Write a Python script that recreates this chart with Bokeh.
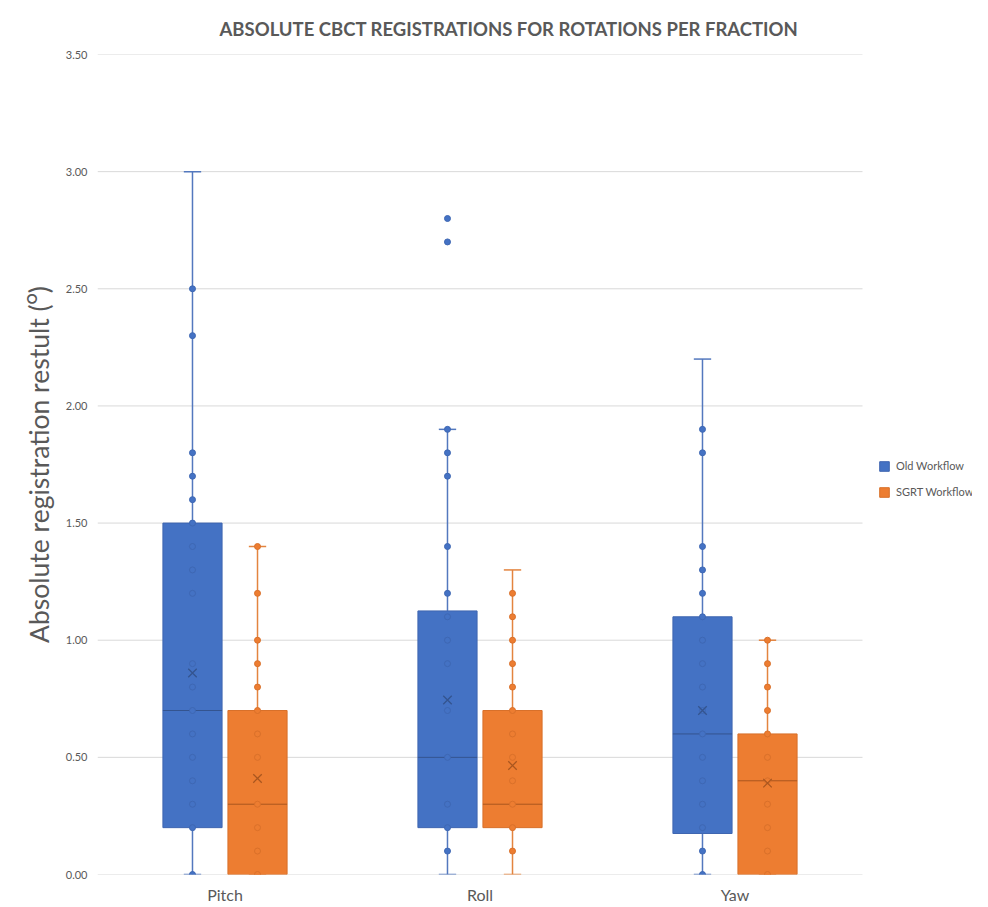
from bokeh.plotting import figure
from bokeh.models import (ColumnDataSource, Range1d, Legend, LegendItem,
                          NumeralTickFormatter, FixedTicker)
from bokeh.embed import file_html
from bokeh.resources import INLINE

# ---------------- data ----------------
categories = ["Pitch", "Roll", "Yaw"]
series_names = ["Old Workflow", "SGRT Workflow"]

old_q1 = [0.20, 0.20, 0.175]
old_median = [0.70, 0.50, 0.60]
old_q3 = [1.50, 1.125, 1.10]
old_low = [0.0, 0.0, 0.0]
old_high = [3.00, 1.90, 2.20]
old_mean = [0.86, 0.745, 0.70]

sgrt_q1 = [0.0, 0.20, 0.0]
sgrt_median = [0.30, 0.30, 0.40]
sgrt_q3 = [0.70, 0.70, 0.60]
sgrt_low = [0.0, 0.0, 0.0]
sgrt_high = [1.40, 1.30, 1.00]
sgrt_mean = [0.41, 0.465, 0.39]

old_pitch_points = [0.0, 0.2, 0.3, 0.4, 0.5, 0.6, 0.7, 0.8, 0.9, 1.2, 1.3, 1.4, 1.5, 1.6, 1.7, 1.8, 2.3, 2.5]
old_roll_points = [0.1, 0.2, 0.3, 0.5, 0.7, 0.9, 1.0, 1.1, 1.2, 1.4, 1.7, 1.8, 1.9, 2.7, 2.8]
old_yaw_points = [0.0, 0.1, 0.2, 0.3, 0.4, 0.5, 0.6, 0.7, 0.8, 0.9, 1.0, 1.1, 1.2, 1.3, 1.4, 1.8, 1.9]
sgrt_pitch_points = [0.0, 0.1, 0.2, 0.3, 0.5, 0.6, 0.7, 0.8, 0.9, 1.0, 1.2, 1.4]
sgrt_roll_points = [0.1, 0.2, 0.3, 0.4, 0.5, 0.6, 0.7, 0.8, 0.9, 1.0, 1.1, 1.2]
sgrt_yaw_points = [0.0, 0.1, 0.2, 0.3, 0.4, 0.5, 0.6, 0.7, 0.8, 0.9, 1.0]

y_ticks = [0.0, 0.5, 1.0, 1.5, 2.0, 2.5, 3.0, 3.5]

# ---------------- layout / style ----------------
FONT = "Lato"
GRAY = "#595959"
OFFSET = 0.1275
BOX_W = 0.232
CAP_HALF = 0.034

W, H = 972, 906
LEFT, TOP, BOTTOM = 97, 54, 30
PX_PER_CAT = 255.0
n_cat = len(categories)
x_end = (W - LEFT) / PX_PER_CAT   # frame extends to the right edge so the legend can live inside it

styles = {
    "Old Workflow": dict(fill="#4472C4", edge="#3F66B0", whisk="#5378BE", dot="#3E67B3", mean="#34548F"),
    "SGRT Workflow": dict(fill="#ED7D31", edge="#D8702A", whisk="#E3843F", dot="#D9702A", mean="#A9561F"),
}

p = figure(width=W, height=H, x_range=Range1d(0, x_end), y_range=Range1d(0, 3.5),
           output_backend="svg", toolbar_location=None,
           min_border_left=LEFT, min_border_right=0, min_border_top=TOP, min_border_bottom=BOTTOM)

p.title.text = "ABSOLUTE CBCT REGISTRATIONS FOR ROTATIONS PER FRACTION"
p.title.text_font = FONT
p.title.text_font_style = "bold"
p.title.text_font_size = "18.5px"
p.title.text_color = GRAY
p.title.align = "left"
p.title.offset = 122
p.title.standoff = 30

p.outline_line_color = None
p.background_fill_color = "white"
p.border_fill_color = "white"
p.xgrid.grid_line_color = None
p.ygrid.grid_line_color = None

# gridlines limited to the category area
gsrc = ColumnDataSource(dict(y=y_ticks, x0=[0.0] * len(y_ticks), x1=[float(n_cat)] * len(y_ticks)))
p.segment(x0="x0", y0="y", x1="x1", y1="y", source=gsrc, line_color="#D9D9D9", line_width=1)

p.yaxis.ticker = FixedTicker(ticks=y_ticks)
p.yaxis.formatter = NumeralTickFormatter(format="0.00")
p.yaxis.axis_line_color = None
p.yaxis.major_tick_line_color = None
p.yaxis.minor_tick_line_color = None
p.yaxis.major_tick_out = 0
p.yaxis.major_tick_in = 0
p.yaxis.major_label_text_font = FONT
p.yaxis.major_label_text_font_size = "11px"
p.yaxis.major_label_text_color = GRAY
p.yaxis.major_label_standoff = 10
p.yaxis.axis_label = "Absolute registration restult (\u1D3C)"
p.yaxis.axis_label_text_font = FONT
p.yaxis.axis_label_text_font_style = "normal"
p.yaxis.axis_label_text_font_size = "26.5px"
p.yaxis.axis_label_text_color = GRAY
p.yaxis.axis_label_standoff = 8

cat_x = [i + 0.5 for i in range(n_cat)]
p.xaxis.ticker = FixedTicker(ticks=cat_x)
p.xaxis.major_label_overrides = {x: c for x, c in zip(cat_x, categories)}
p.xaxis.axis_line_color = None
p.xaxis.major_tick_line_color = None
p.xaxis.minor_tick_line_color = None
p.xaxis.major_tick_out = 0
p.xaxis.major_tick_in = 0
p.xaxis.major_label_text_font = FONT
p.xaxis.major_label_text_font_size = "16px"
p.xaxis.major_label_text_color = GRAY
p.xaxis.major_label_standoff = 10

stats = {
    "Old Workflow": (old_q1, old_median, old_q3, old_low, old_high, old_mean,
                     [old_pitch_points, old_roll_points, old_yaw_points], -OFFSET),
    "SGRT Workflow": (sgrt_q1, sgrt_median, sgrt_q3, sgrt_low, sgrt_high, sgrt_mean,
                      [sgrt_pitch_points, sgrt_roll_points, sgrt_yaw_points], OFFSET),
}

legend_items = []
for name in series_names:
    q1, med, q3, low, high, mean, pts, off = stats[name]
    st = styles[name]
    xc = [x + off for x in cat_x]
    src = ColumnDataSource(dict(
        xc=xc, xl=[x - BOX_W / 2 for x in xc], xr=[x + BOX_W / 2 for x in xc],
        cl=[x - CAP_HALF for x in xc], cr=[x + CAP_HALF for x in xc],
        q1=q1, med=med, q3=q3, low=low, high=high, mean=mean))

    # whiskers and caps
    p.segment(x0="xc", y0="q3", x1="xc", y1="high", source=src, line_color=st["whisk"], line_width=1.5)
    p.segment(x0="xc", y0="low", x1="xc", y1="q1", source=src, line_color=st["whisk"], line_width=1.5)
    p.segment(x0="cl", y0="high", x1="cr", y1="high", source=src, line_color=st["whisk"], line_width=1.5)
    p.segment(x0="cl", y0="low", x1="cr", y1="low", source=src, line_color=st["whisk"], line_width=1.5)

    # box
    box = p.vbar(x="xc", width=BOX_W, bottom="q1", top="q3", source=src,
                 fill_color=st["fill"], line_color=st["edge"], line_width=1)
    # median
    p.segment(x0="xl", y0="med", x1="xr", y1="med", source=src, line_color=st["mean"], line_width=1)

    # data points
    px, pv = [], []
    for x, vals in zip(xc, pts):
        for v in vals:
            px.append(x)
            pv.append(v)
    psrc = ColumnDataSource(dict(x=px, val=pv))
    p.scatter(x="x", y="val", source=psrc, marker="circle", size=6,
              fill_color=st["fill"], line_color=st["dot"], line_width=1)

    # mean
    p.scatter(x="xc", y="mean", source=src, marker="x", size=12, line_color=st["mean"], line_width=1.3)

    legend_items.append(LegendItem(label=name, renderers=[box]))

legend = Legend(items=legend_items, location=(781, 376), orientation="vertical",
                glyph_width=12, glyph_height=12, label_height=12, spacing=13,
                label_standoff=6, padding=0, margin=0,
                label_text_font=FONT, label_text_font_size="11px", label_text_color=GRAY,
                border_line_color=None, background_fill_alpha=0)
p.add_layout(legend)

open("out.html", "w").write(file_html(p, INLINE))
